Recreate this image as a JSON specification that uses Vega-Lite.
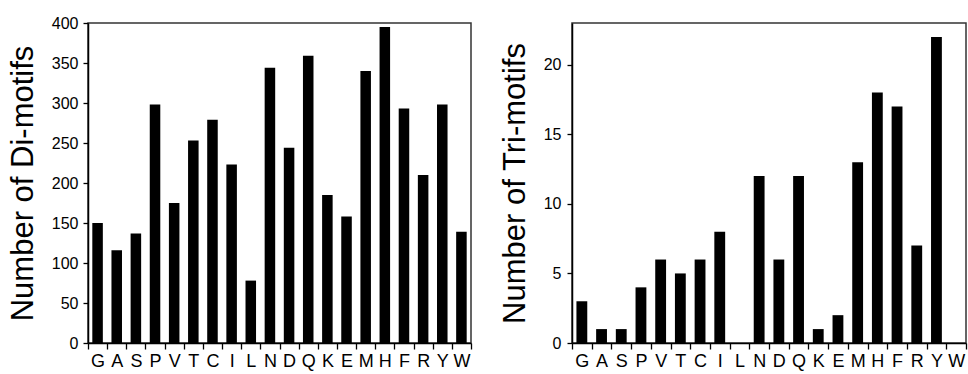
{
  "$schema": "https://vega.github.io/schema/vega-lite/v6.json",
  "background": "white",
  "padding": {"left": 6, "top": 14, "right": 0, "bottom": 0},
  "data": {"values": [
    {"aa": "G", "di": 150, "tri": 3},
    {"aa": "A", "di": 116, "tri": 1},
    {"aa": "S", "di": 137, "tri": 1},
    {"aa": "P", "di": 298, "tri": 4},
    {"aa": "V", "di": 175, "tri": 6},
    {"aa": "T", "di": 253, "tri": 5},
    {"aa": "C", "di": 279, "tri": 6},
    {"aa": "I", "di": 223, "tri": 8},
    {"aa": "L", "di": 78, "tri": 0},
    {"aa": "N", "di": 344, "tri": 12},
    {"aa": "D", "di": 244, "tri": 6},
    {"aa": "Q", "di": 359, "tri": 12},
    {"aa": "K", "di": 185, "tri": 1},
    {"aa": "E", "di": 158, "tri": 2},
    {"aa": "M", "di": 340, "tri": 13},
    {"aa": "H", "di": 395, "tri": 18},
    {"aa": "F", "di": 293, "tri": 17},
    {"aa": "R", "di": 210, "tri": 7},
    {"aa": "Y", "di": 298, "tri": 22},
    {"aa": "W", "di": 139, "tri": 0}
  ]},
  "spacing": 25,
  "hconcat": [
    {
      "width": 383,
      "height": 320,
      "mark": {"type": "bar", "color": "black", "width": {"band": 0.55}},
      "encoding": {
        "x": {"field": "aa", "type": "nominal", "sort": null,
              "scale": {"paddingInner": 0, "paddingOuter": 0},
              "axis": {"title": null, "labelAngle": 0, "ticks": true, "tickBand": "extent", "tickSize": 6, "tickColor": "black", "tickWidth": 1.3, "labelFontSize": 18, "labelPadding": 3}},
        "y": {"field": "di", "type": "quantitative",
              "scale": {"domain": [0, 400], "nice": false},
              "axis": {"title": "Number of Di-motifs", "ticks": true, "tickSize": 5, "tickColor": "black", "tickWidth": 1.3, "labelFontSize": 16, "labelPadding": 5, "titleFontSize": 31, "titlePadding": 12, "values": [0, 50, 100, 150, 200, 250, 300, 350, 400]}}
      }
    },
    {
      "width": 394,
      "height": 320,
      "mark": {"type": "bar", "color": "black", "width": {"band": 0.55}},
      "encoding": {
        "x": {"field": "aa", "type": "nominal", "sort": null,
              "scale": {"paddingInner": 0, "paddingOuter": 0},
              "axis": {"title": null, "labelAngle": 0, "ticks": true, "tickBand": "extent", "tickSize": 6, "tickColor": "black", "tickWidth": 1.3, "labelFontSize": 18, "labelPadding": 3}},
        "y": {"field": "tri", "type": "quantitative",
              "scale": {"domain": [0, 23], "nice": false},
              "axis": {"title": "Number of Tri-motifs", "ticks": true, "tickSize": 5, "tickColor": "black", "tickWidth": 1.3, "labelFontSize": 16, "labelPadding": 6, "titleFontSize": 31, "titlePadding": 12, "values": [0, 5, 10, 15, 20]}}
      }
    }
  ],
  "config": {
    "view": {"stroke": "#333333", "strokeWidth": 1.5},
    "axis": {
      "grid": false,
      "domainColor": "black",
      "domainWidth": 1.5,
      "labelColor": "black",
      "titleColor": "black",
      "labelFont": "Liberation Sans",
      "titleFont": "Liberation Sans",
      "titleFontWeight": "normal"
    }
  }
}
